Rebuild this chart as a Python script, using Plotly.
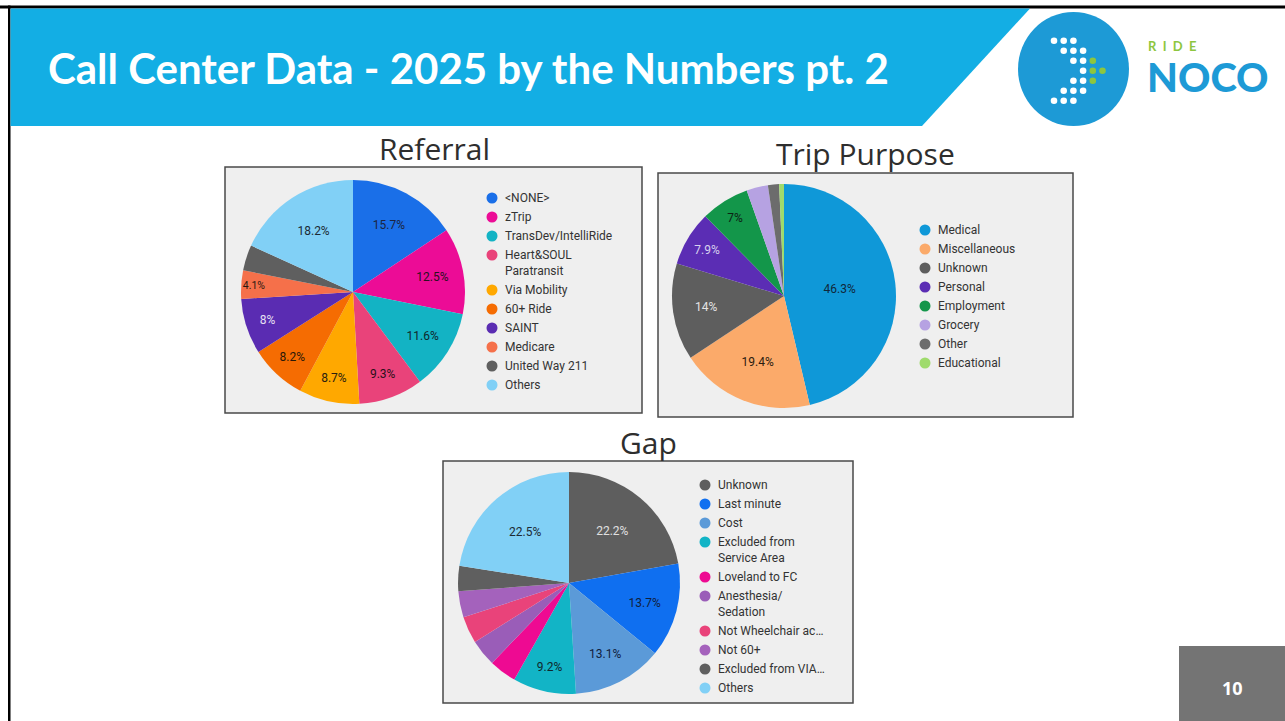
import plotly.graph_objects as go

W, H = 1285, 721

# --- data ---
referral_labels = ["<NONE>", "zTrip", "TransDev/IntelliRide", "Heart&SOUL<br>Paratransit", "Via Mobility",
                   "60+ Ride", "SAINT", "Medicare", "United Way 211", "Others"]
referral_values = [15.7, 12.5, 11.6, 9.3, 8.7, 8.2, 8.0, 4.1, 3.7, 18.2]
referral_colors = ["#1a6fe8", "#ec0c96", "#13b3c4", "#e9437a", "#ffa800", "#f56c02", "#5a2cb2", "#f5704a",
                   "#5f5f5f", "#81d0f6"]
referral_text_colors = ["#1c2540", "#2a1020", "#10282c", "#2a1018", "#2a2010", "#2a1808", "#e6e0f2",
                        "#2a1810", "#ffffff", "#1c2a34"]

trip_labels = ["Medical", "Miscellaneous", "Unknown", "Personal", "Employment", "Grocery", "Other", "Educational"]
trip_values = [46.3, 19.4, 14.0, 7.9, 7.0, 3.1, 1.6, 0.7]
trip_colors = ["#0f98d8", "#fbaa6a", "#5e5e5e", "#5b2db4", "#13964a", "#b6a2e2", "#6c6c6c", "#9fdb6c"]
trip_text_colors = ["#10283a", "#2a1c10", "#e4e4e4", "#d8d0ee", "#0c2414", "#222222", "#ffffff", "#222222"]

gap_labels = ["Unknown", "Last minute", "Cost", "Excluded from<br>Service Area", "Loveland to FC",
              "Anesthesia/<br>Sedation", "Not Wheelchair ac…", "Not 60+", "Excluded from VIA…", "Others"]
gap_values = [22.2, 13.7, 13.1, 9.2, 4.0, 3.9, 3.9, 3.8, 3.7, 22.5]
gap_colors = ["#5e5e5e", "#0f6ff0", "#5b9ad8", "#12b4c6", "#ee0a92", "#9a5db8", "#e9437a", "#a462bc",
              "#5f5f5f", "#81d0f6"]
gap_text_colors = ["#e0e0e0", "#10203c", "#10203c", "#10282c", "#ffffff", "#ffffff", "#ffffff", "#ffffff",
                   "#ffffff", "#1c2a34"]

MIN_LABEL = 4.05
TXT = "#333333"
BODY_FONT = "Roboto, Arial, sans-serif"


def pct_text(values):
    return [f"{v:g}%" if v >= MIN_LABEL else "" for v in values]


def esc(label):
    return label.replace("<", "&lt;").replace(">", "&gt;").replace("&lt;br&gt;", "<br>")


def pie_domain(cx, cy, r):
    return dict(x=[(cx - r) / W, (cx + r) / W], y=[1 - (cy + r) / H, 1 - (cy - r) / H])


fig = go.Figure()

# hidden pixel axes for the slide decoration
fig.add_trace(go.Scatter(x=[None], y=[None], showlegend=False, hoverinfo="skip"))


def add_panel(labels, values, colors, text_colors, title, box, title_xy, center, r, legend_x, legend_y):
    x0, y0, x1, y1 = box
    fig.add_shape(type="rect", xref="x", yref="y", x0=x0, x1=x1, y0=y0, y1=y1,
                  fillcolor="#efefef", line=dict(color="#4a4a4a", width=1.5), layer="below")
    fig.add_annotation(x=title_xy[0], y=title_xy[1], text=title, showarrow=False, xref="x", yref="y",
                       font=dict(family="Open Sans, Roboto, sans-serif", size=30, color="#2e2e2e"))
    fig.add_trace(go.Pie(
        labels=[esc(l) for l in labels], values=values, sort=False, direction="clockwise", rotation=0,
        marker=dict(colors=colors, line=dict(width=0)),
        text=pct_text(values), textinfo="text", textposition="inside",
        insidetextorientation="horizontal",
        textfont=dict(family=BODY_FONT, size=12, color=text_colors),
        domain=pie_domain(center[0], center[1], r), showlegend=False, hoverinfo="skip",
    ))
    y = legend_y
    for lab, col in zip(labels, colors):
        n = lab.count("<br>") + 1
        fig.add_shape(type="circle", xref="x", yref="y", x0=legend_x - 5.5, x1=legend_x + 5.5,
                      y0=y - 5.5, y1=y + 5.5, fillcolor=col, line_width=0)
        fig.add_annotation(x=legend_x + 11, y=y + (n - 1) * 8, text=esc(lab), showarrow=False,
                           xref="x", yref="y", xanchor="left", yanchor="middle", align="left",
                           font=dict(family=BODY_FONT, size=12, color=TXT))
        y += 19 + (n - 1) * 16


add_panel(referral_labels, referral_values, referral_colors, referral_text_colors, "Referral",
          (225, 167, 642, 413), (434, 148), (353, 292), 112, 492, 198)
add_panel(trip_labels, trip_values, trip_colors, trip_text_colors, "Trip Purpose",
          (658, 173, 1073, 417), (865, 153), (784, 296), 112, 925, 230)
add_panel(gap_labels, gap_values, gap_colors, gap_text_colors, "Gap",
          (443, 461, 853, 703), (648, 442), (569, 583), 111, 705, 485)

# slide frame
fig.add_shape(type="rect", xref="x", yref="y", x0=0, x1=W, y0=5.5, y1=8.5, fillcolor="#000000", line_width=0)
fig.add_shape(type="rect", xref="x", yref="y", x0=8, x1=10.5, y0=5.5, y1=H, fillcolor="#000000", line_width=0)

# title banner
fig.add_shape(type="path", xref="x", yref="y", path="M 10.5,8.5 L 1030,8.5 L 922,126 L 10.5,126 Z",
              fillcolor="#13aee4", line_width=0)
fig.add_annotation(x=46, y=68, text="Call Center Data - 2025 by the Numbers pt. 2", showarrow=False,
                   xref="x", yref="y", xanchor="left", yanchor="middle",
                   font=dict(family="Lato, sans-serif", size=42, color="white", weight=700))

# logo
fig.add_shape(type="circle", xref="x", yref="y", x0=1018, x1=1129, y0=12, y1=126,
              fillcolor="#1d9ad6", line_width=0)
dot_rows = [([0, 1, 2], []), ([1, 2, 3], []), ([2, 3], [4]), ([3], [4, 5]), ([2, 3], [4]),
            ([1, 2, 3], []), ([0, 1, 2], [])]
for ri, (whites, greens) in enumerate(dot_rows):
    for ci in whites + greens:
        cxd, cyd = 1054 + 9.7 * ci, 40.7 + 10 * ri
        fig.add_shape(type="circle", xref="x", yref="y", x0=cxd - 3.3, x1=cxd + 3.3, y0=cyd - 3.3,
                      y1=cyd + 3.3, fillcolor="#ffffff" if ci in whites else "#8dc63f", line_width=0)
fig.add_annotation(x=1146, y=46, text="R\u00a0\u00a0I\u00a0\u00a0D\u00a0\u00a0E", showarrow=False,
                   xref="x", yref="y", xanchor="left", yanchor="middle",
                   font=dict(family="Lato, sans-serif", size=13, color="#8dc63f", weight=700))
fig.add_annotation(x=1145, y=77, text="NOCO", showarrow=False, xref="x", yref="y", xanchor="left",
                   yanchor="middle",
                   font=dict(family="Lato, sans-serif", size=40, color="#1d9ad6", weight=900))

# page number
fig.add_shape(type="rect", xref="x", yref="y", x0=1179, x1=W, y0=646, y1=H, fillcolor="#747474", line_width=0)
fig.add_annotation(x=1232, y=688, text="10", showarrow=False, xref="x", yref="y",
                   font=dict(family="Open Sans, sans-serif", size=18, color="white", weight=700))

fig.update_layout(
    width=W, height=H, margin=dict(l=0, r=0, t=0, b=0),
    paper_bgcolor="white", plot_bgcolor="white",
    xaxis=dict(range=[0, W], visible=False, domain=[0, 1], fixedrange=True),
    yaxis=dict(range=[H, 0], visible=False, domain=[0, 1], fixedrange=True),
    showlegend=False,
)

# page has a default 8px body margin; drop it so the slide sits flush with the window
fig.write_html("out.html", config={"displayModeBar": False},
               post_script="document.body.style.margin='0';document.body.style.overflow='hidden';")
